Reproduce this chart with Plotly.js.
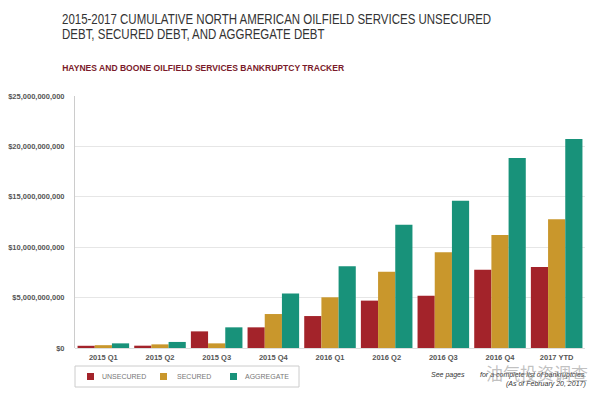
<!DOCTYPE html>
<html>
<head>
<meta charset="utf-8">
<script src="https://cdn.plot.ly/plotly-3.0.1.min.js"></script>
<style>
  html, body { margin: 0; padding: 0; background: #ffffff; }
  #chart { width: 600px; height: 396px; }
</style>
</head>
<body>
<div id="chart"></div>
<script>
const categories = ["2015 Q1", "2015 Q2", "2015 Q3", "2015 Q4", "2016 Q1", "2016 Q2", "2016 Q3", "2016 Q4", "2017 YTD"];
const unsecured = [0.22e9, 0.23e9, 1.65e9, 2.05e9, 3.17e9, 4.7e9, 5.19e9, 7.77e9, 8.04e9];
const secured   = [0.28e9, 0.36e9, 0.46e9, 3.37e9, 5.03e9, 7.57e9, 9.49e9, 11.2e9, 12.77e9];
const aggregate = [0.46e9, 0.6e9, 2.05e9, 5.4e9, 8.1e9, 12.23e9, 14.6e9, 18.85e9, 20.73e9];
const seriesNames = ["UNSECURED", "SECURED", "AGGREGATE"];
const seriesColors = ["#a3232a", "#c9972c", "#18927a"];
const titleLine1 = "2015-2017 CUMULATIVE NORTH AMERICAN OILFIELD SERVICES UNSECURED";
const titleLine2 = "DEBT, SECURED DEBT, AND AGGREGATE DEBT";
const subtitle = "HAYNES AND BOONE OILFIELD SERVICES BANKRUPTCY TRACKER";

const seriesValues = [unsecured, secured, aggregate];
const traces = seriesValues.map((vals, i) => ({
  type: "bar",
  name: seriesNames[i],
  x: categories,
  y: vals,
  marker: { color: seriesColors[i], line: { width: 0 } },
  hoverinfo: "x+y+name"
}));

// plot area in pixels: x 75..585, y 96..348
const PL = 75, PW = 510, PT = 96, PH = 252;
const px = (x) => (x - PL) / PW;
const py = (y) => (PT + PH - y) / PH;

// manual legend
const legendSquareX = [87, 160, 230];
const legendTextX = [100, 175, 243];
const shapes = [{
  type: "rect", xref: "paper", yref: "paper",
  x0: px(75), x1: px(299), y0: py(387), y1: py(366),
  line: { color: "#cccccc", width: 1 }, fillcolor: "#ffffff", layer: "above"
}];
const legendAnn = [];
seriesNames.forEach((name, i) => {
  shapes.push({
    type: "rect", xref: "paper", yref: "paper",
    x0: px(legendSquareX[i]), x1: px(legendSquareX[i] + 7),
    y0: py(380), y1: py(373),
    line: { width: 0 }, fillcolor: seriesColors[i], layer: "above"
  });
  legendAnn.push({
    text: name, xref: "paper", yref: "paper",
    x: px(legendTextX[i]), y: py(376.5),
    xanchor: "left", yanchor: "middle", showarrow: false,
    font: { size: 7, color: "#777777" }
  });
});

const layout = {
  width: 600,
  height: 396,
  paper_bgcolor: "#ffffff",
  plot_bgcolor: "#ffffff",
  margin: { l: PL, r: 600 - PL - PW, t: PT, b: 396 - PT - PH },
  font: { family: "Liberation Sans, Arial, sans-serif", color: "#555555" },
  barmode: "group",
  bargap: 0.09,
  bargroupgap: 0,
  showlegend: false,
  title: {
    text: titleLine1,
    x: 62 / 600,
    xref: "container",
    xanchor: "left",
    y: 1 - 19.5 / 396,
    yref: "container",
    yanchor: "middle",
    font: { family: "Liberation Sans, Arial, sans-serif", size: 14, color: "#333333" }
  },
  xaxis: {
    type: "category",
    showgrid: false,
    showline: false,
    zeroline: false,
    ticks: "",
    ticklabelstandoff: 3,
    tickfont: { size: 7.5, color: "#555555", weight: "bold" },
    fixedrange: true
  },
  yaxis: {
    range: [0, 25e9],
    dtick: 5e9,
    tick0: 0,
    tickformat: "$,.0f",
    showgrid: true,
    gridcolor: "#e6e6e6",
    gridwidth: 1,
    zeroline: true,
    zerolinecolor: "#dddddd",
    showline: true,
    linecolor: "#cccccc",
    linewidth: 1,
    ticks: "",
    ticklabelstandoff: 8,
    tickfont: { size: 7.5, color: "#555555", weight: "bold" },
    fixedrange: true
  },
  shapes: shapes,
  annotations: legendAnn.concat([
    {
      text: titleLine2,
      xref: "paper", yref: "paper",
      x: px(60), y: py(34.5),
      xanchor: "left", yanchor: "middle",
      showarrow: false,
      font: { size: 14, color: "#333333" }
    },
    {
      text: subtitle,
      xref: "paper", yref: "paper",
      x: px(60), y: py(68),
      xanchor: "left", yanchor: "middle",
      showarrow: false,
      font: { size: 9.3, color: "#7a1a2a", weight: "bold" }
    },
    {
      text: "<i>See pages        for a complete list of bankruptcies.</i>",
      xref: "paper", yref: "paper",
      x: px(588), y: py(375),
      xanchor: "right", yanchor: "middle",
      showarrow: false,
      font: { size: 7, color: "#333333" }
    },
    {
      text: "<i>(As of February 20, 2017)</i>",
      xref: "paper", yref: "paper",
      x: px(588), y: py(384),
      xanchor: "right", yanchor: "middle",
      showarrow: false,
      font: { size: 7, color: "#333333" }
    },
    {
      text: "油气投资调查",
      xref: "paper", yref: "paper",
      x: px(590), y: py(372),
      xanchor: "right", yanchor: "middle",
      showarrow: false,
      font: { family: "Noto Sans CJK SC", size: 17, color: "rgba(140,140,140,0.55)" }
    }
  ])
};

function squeeze(el, k) {
  if (!el) return;
  const b = el.getBBox();
  const x0 = b.x;
  el.setAttribute("transform", "translate(" + x0 + ",0) scale(" + k + ",1) translate(" + (-x0) + ",0)");
}

Plotly.newPlot("chart", traces, layout, { displayModeBar: false, staticPlot: true }).then(() => {
  // reference uses a condensed face: narrow title/subtitle horizontally, anchored at the left edge
  squeeze(document.querySelector("#chart .gtitle"), 0.82);
  document.querySelectorAll("#chart .annotation").forEach((g) => {
    const txt = g.querySelector("text.annotation-text");
    if (!txt) return;
    const s = txt.textContent;
    if (s === titleLine2) squeeze(txt, 0.82);
    if (s === subtitle) squeeze(txt, 0.92);
  });
});
</script>
</body>
</html>
